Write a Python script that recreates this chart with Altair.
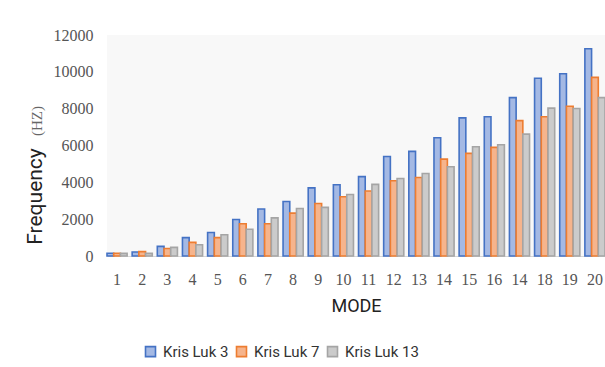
import altair as alt
import pandas as pd

# Natural frequencies (Hz) of the first twenty modes for three models
modes = list(range(1, 21))
mode_labels = ["1", "2", "3", "4", "5", "6", "7", "8", "9", "10",
               "11", "12", "13", "14", "15", "16", "14", "18", "19", "20"]
series = ["Kris Luk 3", "Kris Luk 7", "Kris Luk 13"]
kris_luk_3 = [150, 220, 520, 1000, 1280, 1980, 2550, 2960, 3700, 3870,
              4310, 5400, 5680, 6420, 7500, 7560, 8600, 9650, 9900, 11250]
kris_luk_7 = [150, 240, 410, 740, 1000, 1750, 1750, 2330, 2850, 3220,
              3530, 4090, 4260, 5260, 5570, 5900, 7350, 7560, 8130, 9700]
kris_luk_13 = [140, 140, 470, 610, 1150, 1450, 2070, 2580, 2640, 3340,
               3890, 4210, 4480, 4850, 5930, 6040, 6620, 8030, 8010, 8600]

fills = ["#a4b9e4", "#f6b48c", "#cbcbcb"]
strokes = ["#4472c4", "#ed7d31", "#a5a5a5"]

rows = []
for name, vals in zip(series, [kris_luk_3, kris_luk_7, kris_luk_13]):
    for m, v in zip(modes, vals):
        rows.append({"mode": m, "series": name, "freq": v})
df = pd.DataFrame(rows)

label_array = "[" + ",".join("'" + s + "'" for s in mode_labels) + "]"

bars = alt.Chart(df).mark_bar(strokeWidth=1.6, cornerRadius=0).encode(
    x=alt.X("mode:O",
            scale=alt.Scale(paddingInner=0.2, paddingOuter=0.0),
            axis=alt.Axis(title="MODE", labelExpr=label_array + "[datum.value - 1]",
                          labelAngle=0, labelFont="Liberation Serif", labelFontSize=16,
                          labelColor="#555555", labelPadding=15, ticks=False,
                          domain=True, domainColor="#d6d6d6", domainWidth=1.2,
                          titleFont="Roboto", titleFontSize=18, titleFontWeight="normal",
                          titleColor="#222222", titlePadding=10)),
    xOffset=alt.XOffset("series:N", sort=series, scale=alt.Scale(paddingInner=0, paddingOuter=0)),
    y=alt.Y("freq:Q",
            scale=alt.Scale(domain=[0, 12000]),
            axis=alt.Axis(values=[0, 2000, 4000, 6000, 8000, 10000, 12000], format="d",
                          title="Frequency", titleFont="Roboto", titleFontSize=21,
                          titleFontWeight="normal", titleColor="#222222",
                          titleX=-72, titleY=161, titleAngle=270,
                          titleAlign="center", titleBaseline="middle",
                          labelFont="Liberation Serif", labelFontSize=16,
                          labelColor="#555555", labelPadding=14,
                          ticks=False, domain=False, grid=False)),
    fill=alt.Fill("series:N", sort=series,
                  scale=alt.Scale(domain=series, range=fills),
                  legend=alt.Legend(title=None, orient="none", direction="horizontal",
                                    legendX=36, legendY=309, symbolType="square",
                                    symbolSize=100, symbolStrokeWidth=1.6,
                                    labelFont="Roboto", labelFontSize=15,
                                    labelColor="#333333", columnPadding=4,
                                    labelOffset=5)),
    stroke=alt.Stroke("series:N", sort=series,
                      scale=alt.Scale(domain=series, range=strokes)),
)

hz = alt.Chart(pd.DataFrame({"t": ["(HZ)"]})).mark_text(
    angle=270, font="Liberation Serif", fontSize=15, color="#666666",
    align="center", baseline="middle"
).encode(text="t:N", x=alt.value(-70), y=alt.value(86))

chart = alt.layer(bars, hz).properties(
    width=498, height=221,
    autosize=alt.AutoSizeParams(type="none"),
    padding={"left": 107, "top": 35, "right": 0, "bottom": 111},
    background="#ffffff",
).configure_view(stroke=None, fill="#f8f8f8")

chart.save("out.html", embed_options={"renderer": "svg", "actions": False})
